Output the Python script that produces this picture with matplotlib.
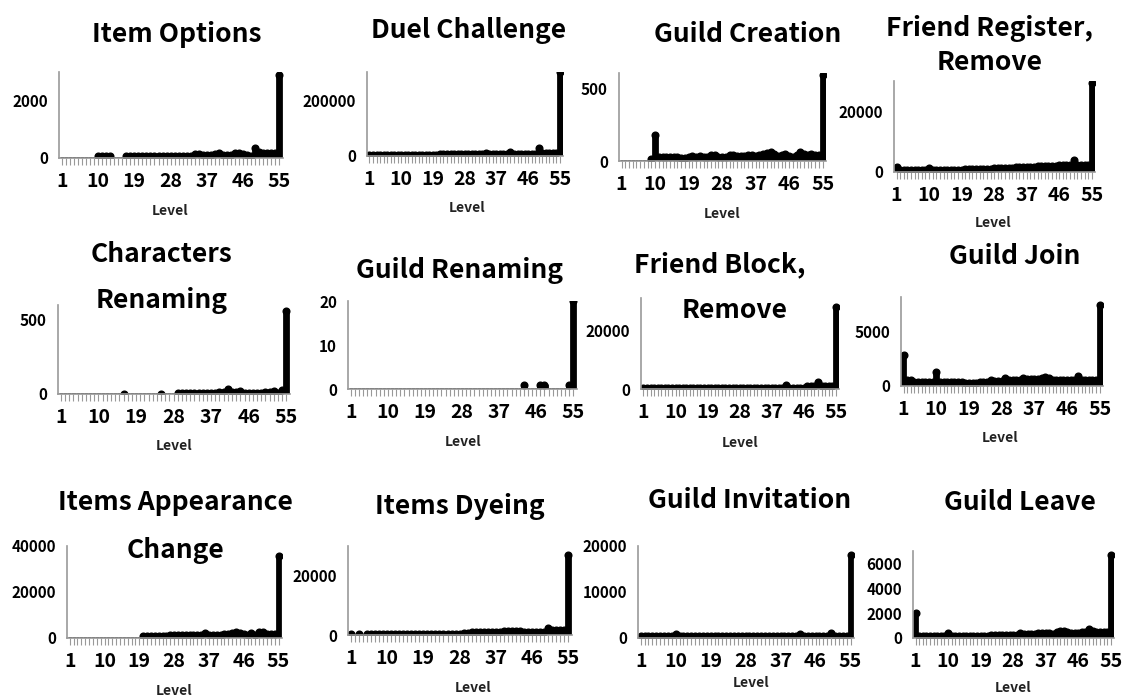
import numpy as np
import matplotlib
matplotlib.use("Agg")
import matplotlib.pyplot as plt

plt.rcParams['font.family'] = ['Noto Sans CJK KR', 'DejaVu Sans']

levels = np.arange(1, 56)
xticklabels = [1, 10, 19, 28, 37, 46, 55]

# values per level (1..55)
item_options = ([0]*9 + [80, 80, 80, 80] + [0, 0, 0]
                + [60]*13 + [70, 70, 70, 80]
                + [130, 140, 120, 90, 100, 150, 170, 120, 110, 120, 160, 170,
                   130, 90, 80, 350, 200, 160, 160, 160, 170, 2850])
duel_challenge = ([5000]*20 + [6000]*13 + [12000] + [7000]*6 + [15000]
                  + [8000]*7 + [28000, 12000, 12000, 12000, 12000, 12000, 300000])
guild_creation = ([0]*8 + [15, 175, 30, 28, 25, 25, 25]
                  + [30, 20, 20, 25, 35, 30, 35, 30, 25, 40, 40, 30, 30, 25, 40,
                     40, 35, 35, 35, 40, 40, 35, 40, 50, 55, 65, 45, 35, 40, 45,
                     35, 30, 40, 65, 50, 40, 45, 40, 40, 590])
friend_register = ([1500] + [700]*8 + [1200] + [700]*9 + [900]*8
                   + [1200]*6 + [1700]*6 + [2000]*4
                   + [2000, 2100, 2200, 2300, 2300, 2300, 4000, 2300, 2300, 2300, 2300, 29500])
char_renaming = ([0]*15 + [3] + [0]*8 + [3] + [0]*3 + [5]*7
                 + [8, 8, 10, 12, 12, 35, 12, 15, 20, 10, 10, 8, 8, 10, 15, 15, 20,
                    10, 30, 560])
guild_renaming = [0]*42 + [1, 0, 0, 0, 1, 1, 0, 0, 0, 0, 0, 1, 20]
friend_block = ([500]*40 + [1200] + [500]*5 + [1000, 1000, 1000, 2500]
                + [1000]*4 + [28000])
guild_join = ([2900, 600, 600] + [400]*6 + [1300] + [400]*7 + [300]*4 + [400]*3
              + [600, 450, 450, 450, 700, 600, 600, 600, 600, 700, 650, 650, 650,
                 650, 750, 800, 750] + [550]*7 + [900] + [600]*5 + [7500])
items_appearance = ([0]*19 + [1000]*7 + [1100]*6 + [1200]
                    + [1500, 1200, 2000, 1300, 1300, 1300, 1300, 1800, 1800, 2200,
                       2800, 2200, 1800, 1500, 2000, 1500, 2800, 2500, 1800, 1800,
                       1800, 35500])
items_dyeing = ([300, 0, 300, 0] + [400]*12 + [500]*12
                + [800, 800, 1000, 900, 900, 1000, 900, 1000, 1000, 900, 1400,
                   1400, 1400, 1500, 1400, 1100, 1100, 1100, 1100, 1100, 1100,
                   2200, 1600, 1600, 1600, 1600, 27000])
guild_invitation = ([500]*9 + [900] + [500]*31 + [800] + [500]*7 + [1100]
                    + [500]*4 + [18000])
guild_leave = ([2000] + [150]*8 + [400] + [150]*11 + [250]*8
               + [400, 300, 300, 300, 300, 400, 400, 400, 400, 350, 500, 550, 600,
                  500, 400, 400, 400, 450, 450, 700, 600, 450, 450, 450, 450, 6700])

series = [item_options, duel_challenge, guild_creation, friend_register,
          char_renaming, guild_renaming, friend_block, guild_join,
          items_appearance, items_dyeing, guild_invitation, guild_leave]

titles = [["Item Options"], ["Duel Challenge"], ["Guild Creation"],
          ["Friend Register,", "Remove"],
          ["Characters", "Renaming"], ["Guild Renaming"],
          ["Friend Block,", "Remove"], ["Guild Join"],
          ["Items Appearance", "Change"], ["Items Dyeing"],
          ["Guild Invitation"], ["Guild Leave"]]

ymaxs = [2966, 300000, 603, 30000, 600, 20, 31000, 8240, 40000, 30000, 20000, 7000]
yticks = [[0, 2000], [0, 200000], [0, 500], [0, 20000], [0, 500], [0, 10, 20],
          [0, 20000], [0, 5000], [0, 20000, 40000], [0, 20000], [0, 10000, 20000],
          [0, 2000, 4000, 6000]]

# layout in pixels: left, top, right, zero line
boxes = [(59, 72, 283, 158), (367, 72, 563, 156), (619, 73, 826, 161),
         (894, 81, 1095, 172), (58, 305, 290, 394), (348, 301, 577, 389),
         (641, 298, 839, 389), (901, 297, 1103, 386), (67, 546, 282, 638),
         (348, 546, 572, 635), (638, 546, 854, 638), (913, 551, 1114, 638)]
title_pos = [[(177, 35)], [(469, 30)], [(748, 35)], [(990, 28), (990, 63)],
             [(162, 254), (162, 300)], [(460, 270)], [(720, 265), (735, 310)],
             [(1015, 257)], [(175, 503), (175, 550)], [(460, 506)],
             [(750, 501)], [(1020, 502)]]
level_pos = [(170, 211), (467, 208), (722, 214), (993, 223), (174, 446),
             (463, 442), (740, 443), (1000, 438), (174, 691), (473, 688),
             (751, 683), (1013, 688)]

W, H = 1123, 699
fig = plt.figure(figsize=(W/100, H/100), dpi=100)

for i in range(12):
    l, t, r, b = boxes[i]
    ax = fig.add_axes([l/W, 1 - b/H, (r - l)/W, (b - t)/H])
    vals = np.array(series[i], dtype=float)
    ax.bar(levels, vals, width=1.0, color='black', linewidth=2.0, edgecolor='black',
           joinstyle='round')
    nz = vals > 0
    ax.plot(levels[nz], vals[nz], 'o', color='black', markersize=4.8, linestyle='none')
    ax.set_xlim(0.3, 55.9)
    ax.set_ylim(0, ymaxs[i])
    ax.set_yticks(yticks[i])
    ax.set_yticklabels([str(v) for v in yticks[i]], fontsize=11, fontweight='bold')
    ax.set_xticks(xticklabels)
    ax.set_xticklabels([str(v) for v in xticklabels], fontsize=14, fontweight='bold')
    ax.set_xticks(levels, minor=True)
    ax.tick_params(axis='x', which='major', length=5, color='#999999', pad=5, width=0.8)
    ax.tick_params(axis='x', which='minor', length=5, color='#999999', width=0.8)
    ax.tick_params(axis='y', length=0, pad=8)
    for s in ['top', 'right']:
        ax.spines[s].set_visible(False)
    for s in ['left', 'bottom']:
        ax.spines[s].set_color('#999999')
        ax.spines[s].set_linewidth(1.2)
    ax.set_facecolor('none')
    for txt, (x, y) in zip(titles[i], title_pos[i]):
        fig.text(x/W, 1 - y/H, txt, ha='center', va='center', fontsize=19,
                 fontweight='bold')
    lx, ly = level_pos[i]
    fig.text(lx/W, 1 - ly/H, "Level", ha='center', va='center', fontsize=10,
             fontweight='bold', color='#222222')

fig.savefig("out.png", dpi=100)
